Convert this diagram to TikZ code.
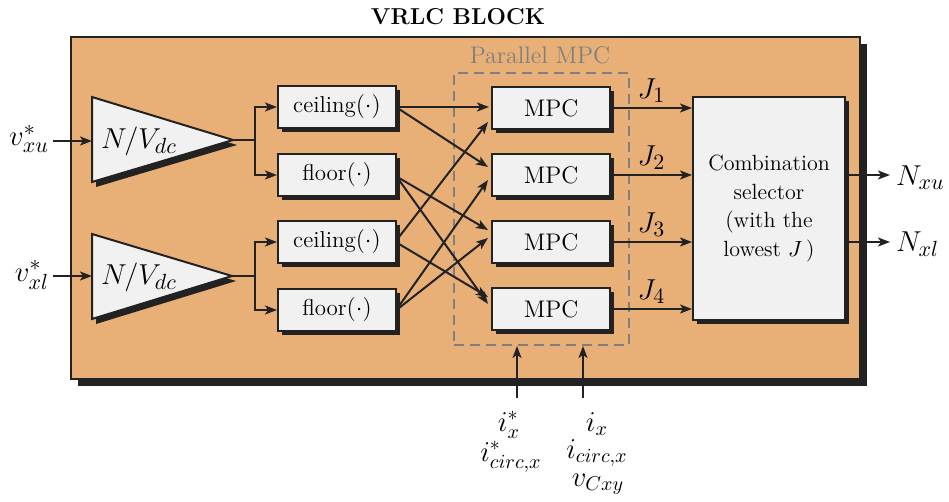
\documentclass[tikz,border=0pt]{standalone}
\usetikzlibrary{arrows.meta,shadows,calc}
\definecolor{blockorange}{HTML}{E8AF77}
\definecolor{boxgray}{HTML}{F1F1F1}
\definecolor{dashgray}{HTML}{7F7F7F}
\definecolor{inkblack}{HTML}{222222}
\begin{document}
\begin{tikzpicture}[x=0.5pt,y=-0.5pt,
  >={Stealth[length=6pt,width=4.5pt,inset=1.5pt]},
  line width=1pt,
  opbox/.style={draw=inkblack, fill=boxgray, minimum width=59pt, minimum height=21pt, inner sep=0pt,
    font=\fontsize{11.5}{14}\selectfont,
    drop shadow={shadow xshift=2pt, shadow yshift=-2pt, fill=inkblack, opacity=1}},
  mlabel/.style={font=\fontsize{15}{18}\selectfont, inner sep=1pt},
  blabel/.style={font=\fontsize{14.5}{17}\selectfont, inner sep=0pt},
  conn/.style={->, draw=inkblack}]
\useasboundingbox (0,0) rectangle (949,502);
% title
\node[font=\bfseries\fontsize{11.5}{14}\selectfont] (title) at (458,17) {VRLC BLOCK};
% outer block
\node[draw=inkblack, line width=0.8pt, fill=blockorange, minimum width=394.5pt, minimum height=171pt, inner sep=0pt,
  drop shadow={shadow xshift=3.5pt, shadow yshift=-3.5pt, fill=inkblack, opacity=1}] (vrlc) at (465.5,208) {};
% parallel MPC dashed box
\node[draw=dashgray, line width=1pt, dash pattern=on 5pt off 3pt, minimum width=87.5pt, minimum height=136pt, inner sep=0pt] (par) at (541.5,209) {};
\node[text=dashgray, font=\fontsize{12}{14}\selectfont] (partitle) at (540,55) {Parallel MPC};
% gain triangles
\fill[inkblack] (96,102) -- (96,187) -- (237,145) -- cycle;
\draw[inkblack, fill=boxgray] (92,97) -- (92,182) -- (233,140) -- cycle;
\fill[inkblack] (96,239) -- (96,324) -- (236,281) -- cycle;
\draw[inkblack, fill=boxgray] (92,234) -- (92,319) -- (232,276) -- cycle;
\node[mlabel] (g1) at (139,141) {$N/V_{dc}$};
\node[mlabel] (g2) at (139,277) {$N/V_{dc}$};
\coordinate (t1w) at (92,141);
\coordinate (t1tip) at (233,140);
\coordinate (t2w) at (92,276);
\coordinate (t2tip) at (232,276);
\coordinate (b1) at (255,140);
\coordinate (b2) at (255,276);
% inputs
\node[mlabel] (vxu) at (29,139) {$v_{xu}^{*}$};
\node[mlabel] (vxl) at (32,275) {$v_{xl}^{*}$};
\draw[conn] (53,141) coordinate (in1) -- (t1w);
\draw[conn] (53,276) coordinate (in2) -- (t2w);
% rounding boxes
\node[opbox] (c1) at (337,107) {ceiling$(\cdot)$};
\node[opbox] (f1) at (337,175) {floor$(\cdot)$};
\node[opbox] (c2) at (337,242) {ceiling$(\cdot)$};
\node[opbox] (f2) at (337,310) {floor$(\cdot)$};
\draw[inkblack] (t1tip) -- (b1);
\draw[conn] (b1) |- (c1.west);
\draw[conn] (b1) |- (f1.west);
\draw[inkblack] (t2tip) -- (b2);
\draw[conn] (b2) |- (c2.west);
\draw[conn] (b2) |- (f2.west);
% MPC boxes
\node[opbox, font=\fontsize{12}{14}\selectfont] (m1) at (551,108) {MPC};
\node[opbox, font=\fontsize{12}{14}\selectfont] (m2) at (551,175) {MPC};
\node[opbox, font=\fontsize{12}{14}\selectfont] (m3) at (551,242) {MPC};
\node[opbox, font=\fontsize{12}{14}\selectfont] (m4) at (551,309) {MPC};
% crossing connectors
\draw[conn] (c1.east) -- ($(m1.west)+(-2,-1)$);
\draw[conn] ($(c1.east)+(2,2)$) -- ($(m2.west)+(-3,-8)$);
\draw[conn] ($(f1.east)+(2,3)$) -- ($(m3.west)+(-3,-12)$);
\draw[conn] ($(f1.east)+(2,5)$) -- ($(m4.west)+(-3,-5)$);
\draw[conn] ($(c2.east)+(2,-5)$) -- ($(m1.west)+(-3,14)$);
\draw[conn] ($(c2.east)+(2,2)$) -- ($(m4.west)+(-3,-12)$);
\draw[conn] ($(f2.east)+(2,-4)$) -- ($(m2.west)+(-3,5)$);
\draw[conn] ($(f2.east)+(2,-2)$) -- ($(m3.west)+(-3,-4)$);
% combination selector
\node[opbox, minimum width=76pt, minimum height=111.5pt, align=center, font=\fontsize{11}{14.3}\selectfont] (comb) at (769,208.5)
  {Combination\\selector\\(with the\\lowest $J\,$)};
\draw[conn] (m1.east) -- (m1.east -| comb.west) node[midway, above=1pt, mlabel] (j1) {$J_1$};
\draw[conn] (m2.east) -- (m2.east -| comb.west) node[midway, above=1pt, mlabel] (j2) {$J_2$};
\draw[conn] (m3.east) -- (m3.east -| comb.west) node[midway, above=1pt, mlabel] (j3) {$J_3$};
\draw[conn] (m4.east) -- (m4.east -| comb.west) node[midway, above=1pt, mlabel] (j4) {$J_4$};
% outputs
\coordinate (o1) at (890,175);
\coordinate (o2) at (890,242);
\draw[conn] (comb.east |- o1) -- (o1);
\draw[conn] (comb.east |- o2) -- (o2);
\node[mlabel, anchor=west] (nxu) at (893,178) {$N_{xu}$};
\node[mlabel, anchor=west] (nxl) at (893,244) {$N_{xl}$};
% bottom inputs
\coordinate (s1) at (517,398);
\coordinate (s2) at (583,398);
\draw[conn] (s1) -- (s1 |- par.south);
\draw[conn] (s2) -- (s2 |- par.south);
\node[blabel] (ix1) at (509,425) {$i_{x}^{*}$};
\node[blabel] (ic1) at (511,457) {$i_{circ,x}^{*}$};
\node[blabel] (ix2) at (597,424) {$i_{x}$};
\node[blabel] (ic2) at (597,453) {$i_{circ,x}$};
\node[blabel] (vc2) at (598,484) {$v_{Cxy}$};
\end{tikzpicture}
\end{document}
